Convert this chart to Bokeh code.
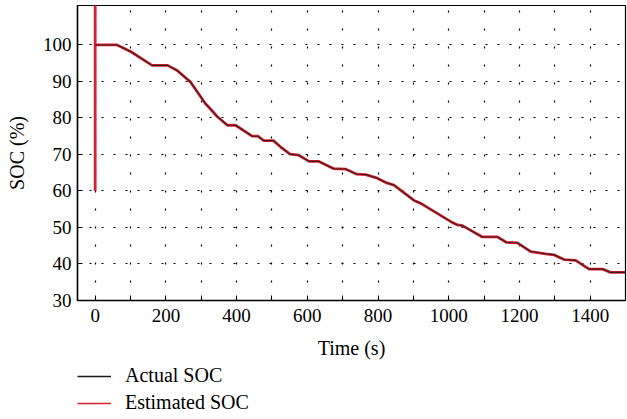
from bokeh.plotting import figure
from bokeh.layouts import column
from bokeh.models import Range1d, FixedTicker, Legend, LegendItem
from bokeh.embed import file_html
from bokeh.resources import INLINE

# Data
time_actual = [0, 62, 100, 161, 205, 232, 270, 312, 321, 345, 374, 397, 444, 460, 477, 504, 524, 551, 576,
               605, 633, 675, 708, 740, 765, 798, 822, 845, 902, 921, 1006, 1025, 1039, 1095, 1138, 1164, 1194,
               1232, 1274, 1298, 1326, 1359, 1397, 1435, 1458, 1500]
soc_actual = [100, 100, 98.2, 94.4, 94.4, 93.0, 89.8, 83.9, 83.0, 80.4, 78.0, 78.0, 75.0, 75.0, 73.8, 73.8, 72.1, 70.1, 69.8,
              68.1, 68.1, 66.1, 66.0, 64.6, 64.5, 63.5, 62.3, 61.6, 57.4, 56.6, 51.6, 50.7, 50.5, 47.4, 47.4, 45.9, 45.8,
              43.4, 42.8, 42.5, 41.2, 41.0, 38.6, 38.6, 37.7, 37.7]
time_est = [0, 0, 0] + time_actual[1:]
soc_est = [60, 112, 100] + soc_actual[1:]

x_major_ticks = [0, 200, 400, 600, 800, 1000, 1200, 1400]
x_minor_ticks = [100, 300, 500, 700, 900, 1100, 1300, 1500]
y_major_ticks = [30, 40, 50, 60, 70, 80, 90, 100]

FONT = "Liberation Serif"
RED = "#d8202f"
BLACK = "#1a1a1a"

p = figure(width=627, height=362, output_backend="svg", toolbar_location=None,
           x_range=Range1d(-50, 1500), y_range=Range1d(30, 110.8),
           min_border_left=77, min_border_right=2, min_border_top=5, min_border_bottom=62)

p.outline_line_color = "black"
p.outline_line_width = 1.2

r_est = p.line(time_est, soc_est, line_color=RED, line_width=2.8)
r_act = p.line(time_actual, soc_actual, line_color=BLACK, line_width=1.1, line_alpha=0.8)

# axes
p.xaxis.ticker = FixedTicker(ticks=x_major_ticks, minor_ticks=x_minor_ticks)
p.yaxis.ticker = FixedTicker(ticks=y_major_ticks)
for ax in (p.xaxis[0], p.yaxis[0]):
    ax.axis_line_color = "black"
    ax.axis_line_width = 1.5
    ax.major_tick_in = 5
    ax.major_tick_out = 0
    ax.minor_tick_in = 5
    ax.minor_tick_out = 0
    ax.major_tick_line_color = "black"
    ax.minor_tick_line_color = "black"
    ax.major_label_text_font = FONT
    ax.major_label_text_font_size = "19px"
    ax.major_label_text_color = "black"
    ax.axis_label_text_font = FONT
    ax.axis_label_text_font_size = "20px"
    ax.axis_label_text_font_style = "normal"
    ax.axis_label_text_color = "black"
p.xaxis.axis_label = "Time (s)"
p.yaxis.axis_label = "SOC (%)"
p.xaxis.major_label_standoff = 8
p.xaxis.axis_label_standoff = 12
p.yaxis.major_label_standoff = 6
p.yaxis.axis_label_standoff = 12
p.yaxis.minor_tick_line_color = None

# grids
p.xgrid.grid_line_color = "black"
p.xgrid.grid_line_dash = "2 16"
p.xgrid.grid_line_width = 1.2
p.xgrid.minor_grid_line_color = "black"
p.xgrid.minor_grid_line_dash = "2 16"
p.xgrid.minor_grid_line_width = 1.2
p.ygrid.grid_line_color = "black"
p.ygrid.grid_line_dash = "2 10"
p.ygrid.grid_line_width = 1.2

# legend figure below (its line renderers lie outside its ranges, only the legend shows)
lf = figure(width=627, height=57, output_backend="svg", toolbar_location=None,
            x_axis_type=None, y_axis_type=None, x_range=Range1d(0, 1), y_range=Range1d(0, 1),
            min_border_left=0, min_border_right=0, min_border_top=0, min_border_bottom=0)
lf.outline_line_color = None
lf.grid.visible = False
l_act = lf.line([5, 6], [5, 6], line_color=BLACK, line_width=1.6)
l_est = lf.line([5, 6], [5, 6], line_color=RED, line_width=1.6)

legend = Legend(items=[LegendItem(label="Actual SOC", renderers=[l_act]),
                       LegendItem(label="Estimated SOC", renderers=[l_est])],
                location=(0, 5), orientation="vertical")
legend.border_line_color = None
legend.background_fill_alpha = 0
legend.label_text_font = FONT
legend.label_text_font_size = "20px"
legend.label_text_color = "black"
legend.glyph_width = 34
legend.label_standoff = 14
legend.spacing = 4
legend.padding = 0
legend.margin = 0
lf.add_layout(legend)

layout = column(p, lf, spacing=0)
open("out.html", "w").write(file_html(layout, INLINE))
